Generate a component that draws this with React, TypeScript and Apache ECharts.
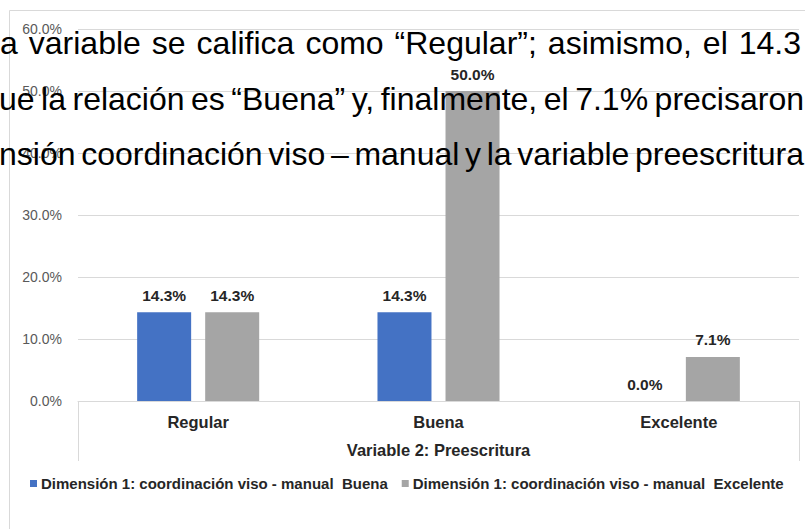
import React, { useEffect, useRef } from "react";
import * as echarts from "echarts";

const categories = ["Regular", "Buena", "Excelente"];
const seriesNames = [
  "Dimensión 1: coordinación viso - manual  Buena",
  "Dimensión 1: coordinación viso - manual  Excelente",
];
const buenaValues = [14.3, 14.3, 0.0];
const excelenteValues = [14.3, 50.0, 7.1];
const axisName = "Variable 2: Preescritura";

// Overlaid document text (justified lines)
const docLines = [
  "a variable se califica como “Regular”; asimismo, el 14.3",
  "ue la relación es “Buena” y, finalmente, el 7.1% precisaron",
  "nsión coordinación viso – manual y la variable preescritura",
];
const docLineBaselines = [54, 110, 165];
const docLineStart = [0, -1, -1];
const docLineEnd = [801, 804, 804];

const FONT = "'Liberation Sans', Arial, sans-serif";
const DOC_FONT_SIZE = 32;

function buildDocText(): any[] {
  const canvas = document.createElement("canvas");
  const ctx = canvas.getContext("2d")!;
  ctx.font = `${DOC_FONT_SIZE}px 'Liberation Sans', Arial, sans-serif`;
  const els: any[] = [];
  docLines.forEach((line, i) => {
    const words = line.split(" ");
    const widths = words.map((w) => ctx.measureText(w).width);
    const total = widths.reduce((a, b) => a + b, 0);
    const gap = (docLineEnd[i] - docLineStart[i] - total) / (words.length - 1);
    let x = docLineStart[i];
    words.forEach((w, j) => {
      els.push({
        type: "text",
        x,
        y: docLineBaselines[i] - DOC_FONT_SIZE * 0.35,
        z: 100,
        style: {
          text: w,
          fill: "#000",
          font: `${DOC_FONT_SIZE}px ${FONT}`,
          textAlign: "left",
          textVerticalAlign: "middle",
        },
      });
      x += widths[j] + gap;
    });
  });
  return els;
}

export default function App() {
  const ref = useRef<HTMLDivElement>(null);
  useEffect(() => {
    document.body.style.margin = "0";
    const chart = echarts.init(ref.current!, null, { renderer: "svg" });
    const labelStyle = {
      show: true,
      position: "top",
      distance: 9,
      formatter: (p: any) => Number(p.value).toFixed(1) + "%",
      fontWeight: "bold",
      fontSize: 15.5,
      color: "#262626",
      fontFamily: FONT,
    };
    const border = "#d9d9d9";
    chart.setOption({
      animation: false,
      backgroundColor: "#ffffff",
      grid: { left: 78, right: 6, top: 29, bottom: 128 },
      xAxis: {
        type: "category",
        data: categories,
        axisLine: { lineStyle: { color: border } },
        axisTick: { show: false },
        axisLabel: {
          fontWeight: "bold",
          fontSize: 16.5,
          color: "#262626",
          margin: 12,
          fontFamily: FONT,
        },
        name: axisName,
        nameLocation: "middle",
        nameGap: 40,
        nameTextStyle: {
          fontWeight: "bold",
          fontSize: 16.5,
          color: "#262626",
          fontFamily: FONT,
        },
      },
      yAxis: {
        type: "value",
        min: 0,
        max: 60,
        interval: 10,
        axisLine: { show: false },
        axisTick: { show: false },
        axisLabel: {
          formatter: (v: number) => v.toFixed(1) + "%",
          color: "#595959",
          fontSize: 14,
          margin: 16,
          fontFamily: FONT,
        },
        splitLine: { lineStyle: { color: border } },
      },
      legend: {
        left: 25,
        top: 471,
        icon: "rect",
        itemWidth: 7,
        itemHeight: 7,
        itemGap: 14,
        textStyle: {
          fontWeight: "bold",
          fontSize: 15,
          color: "#262626",
          fontFamily: FONT,
          padding: [0, 0, 0, -1],
        },
        data: seriesNames,
      },
      series: [
        {
          type: "bar",
          name: seriesNames[0],
          data: buenaValues,
          barWidth: 54,
          barGap: "26%",
          itemStyle: { color: "#4472c4" },
          label: labelStyle,
        },
        {
          type: "bar",
          name: seriesNames[1],
          data: excelenteValues,
          barWidth: 54,
          barGap: "26%",
          itemStyle: { color: "#a5a5a5" },
          label: labelStyle,
        },
      ],
      graphic: [
        { type: "line", shape: { x1: 9.5, y1: 10.5, x2: 805, y2: 10.5 }, style: { stroke: border, lineWidth: 1 } },
        { type: "line", shape: { x1: 9.5, y1: 10.5, x2: 9.5, y2: 529 }, style: { stroke: border, lineWidth: 1 } },
        { type: "line", shape: { x1: 78.5, y1: 401, x2: 78.5, y2: 461 }, style: { stroke: border, lineWidth: 1 } },
        { type: "line", shape: { x1: 799.5, y1: 401, x2: 799.5, y2: 461 }, style: { stroke: border, lineWidth: 1 } },
        ...buildDocText(),
      ],
    });
    return () => chart.dispose();
  }, []);
  return (
    <div
      ref={ref}
      style={{ position: "fixed", left: 0, top: 0, width: 805, height: 529 }}
    />
  );
}
